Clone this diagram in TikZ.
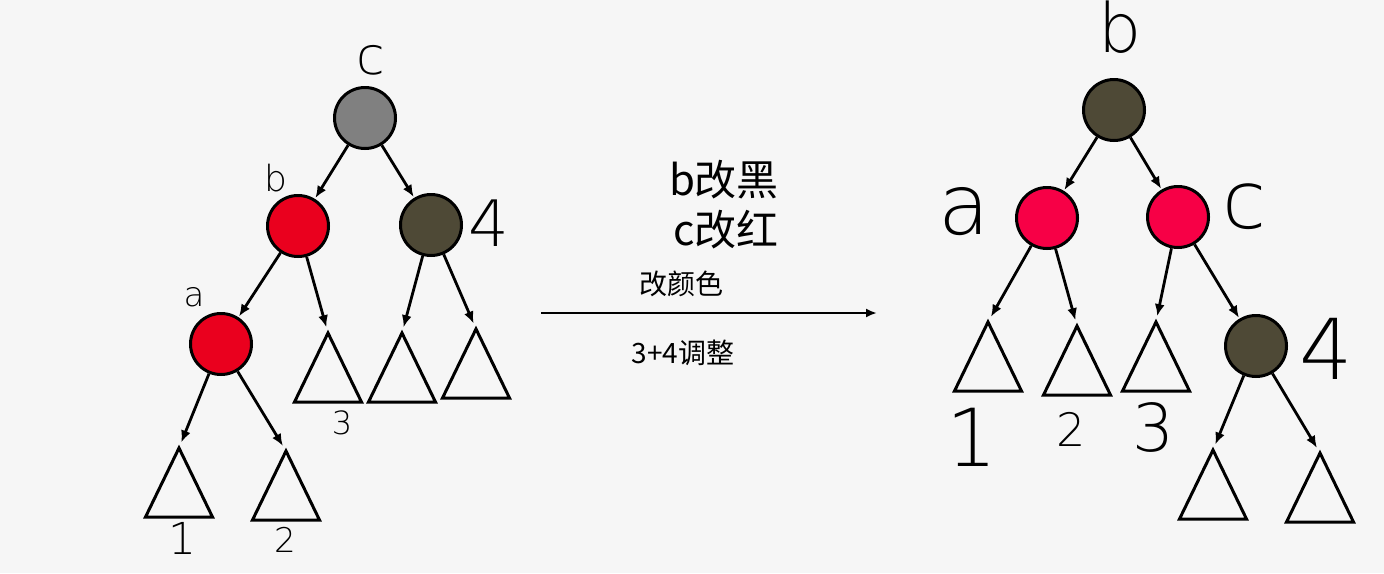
\documentclass[tikz,border=0pt]{standalone}
\usepackage{fontspec}
\usetikzlibrary{arrows.meta}
\newfontfamily\cjk{Noto Sans CJK SC}
\newfontfamily\hand{DejaVu Sans ExtraLight}
\newcommand\hwsize[1]{\fontsize{#1}{#1}\selectfont}
\definecolor{bgc}{HTML}{F6F6F6}
\definecolor{greyn}{HTML}{808080}
\definecolor{redn}{HTML}{EA001E}
\definecolor{pinkn}{HTML}{F70046}
\definecolor{darkn}{HTML}{4E4936}
\tikzset{
  rbnode/.style={circle, draw=black, line width=3pt, minimum size=61pt, inner sep=0pt},
  edge/.style={line width=2.8pt, -{Latex[length=12pt,width=10pt]}, shorten >=1pt},
  subedge/.style={edge, shorten >=6pt},
  tristy/.style={line width=3pt, line join=miter},
  lbl/.style={inner sep=0pt, font=\hand},
  cjklbl/.style={inner sep=0pt, font=\cjk},
}
\newcommand\subtree[1]{\draw[tristy] (#1) -- ++(-33.5,69) -- ++(67,0) -- cycle;}
\begin{document}
\begin{tikzpicture}[x=1pt,y=-1pt]
\fill[bgc] (0,0) rectangle (1384,573);
\useasboundingbox (0,0) rectangle (1384,573);

% ---------- left tree ----------
\node[rbnode, fill=greyn] (Lc) at (365,118) {};
\node[rbnode, fill=redn]  (Lb) at (298,226) {};
\node[rbnode, fill=darkn] (L4) at (431,225) {};
\node[rbnode, fill=redn]  (La) at (221,344) {};

\coordinate (LT1) at (179,448);
\coordinate (LT2) at (286,451);
\coordinate (LT3) at (328,333);
\coordinate (LT4) at (402,333);
\coordinate (LT5) at (476,329);
\foreach \t in {LT1,LT2,LT3,LT4,LT5} {\subtree{\t}}

\draw[edge] (Lc) -- (Lb);
\draw[edge] (Lc) -- (L4);
\draw[edge] (Lb) -- (La);
\draw[subedge] (Lb) -- (LT3);
\draw[subedge] (L4) -- (LT4);
\draw[subedge] (L4) -- (LT5);
\draw[subedge] (La) -- (LT1);
\draw[subedge] (La) -- (LT2);

\node[lbl, font=\hand\hwsize{52}] (lc) at (371,60) {c};
\node[lbl, font=\hand\hwsize{36}] (lb) at (276,178) {b};
\node[lbl, font=\hand\hwsize{64}] (l4) at (489,223) {4};
\node[lbl, font=\hand\hwsize{34}] (la) at (194,297) {a};
\node[lbl, font=\hand\hwsize{32}] (l3) at (342,423) {3};
\node[lbl, font=\hand\hwsize{44}] (l1) at (182,538) {1};
\node[lbl, font=\hand\hwsize{34}] (l2) at (285,540) {2};

% ---------- middle ----------
\node[cjklbl, font=\cjk\hwsize{42}] (t1) at (724,180) {b改黑};
\node[cjklbl, font=\cjk\hwsize{42}] (t2) at (726,230) {c改红};
\node[cjklbl, font=\cjk\hwsize{28}] (t3) at (681,284) {改颜色};
\node[cjklbl, font=\cjk\hwsize{28}] (t4) at (683,353) {3+4调整};
\coordinate (m1) at (541,313);
\coordinate (m2) at (877,313);
\draw[line width=2.4pt, -{Latex[length=11pt,width=9pt]}] (m1) -- (m2);

% ---------- right tree ----------
\node[rbnode, fill=darkn] (Rb) at (1114,110) {};
\node[rbnode, fill=pinkn] (Ra) at (1047,218) {};
\node[rbnode, fill=pinkn] (Rc) at (1178,217) {};
\node[rbnode, fill=darkn] (R4) at (1256,346) {};

\coordinate (RT1) at (988,322);
\coordinate (RT2) at (1077,326);
\coordinate (RT3) at (1156,322);
\coordinate (RT4) at (1213,450);
\coordinate (RT5) at (1320,453);
\foreach \t in {RT1,RT2,RT3,RT4,RT5} {\subtree{\t}}

\draw[edge] (Rb) -- (Ra);
\draw[edge] (Rb) -- (Rc);
\draw[edge] (Rc) -- (R4);
\draw[subedge] (Ra) -- (RT1);
\draw[subedge] (Ra) -- (RT2);
\draw[subedge] (Rc) -- (RT3);
\draw[subedge] (R4) -- (RT4);
\draw[subedge] (R4) -- (RT5);

\node[lbl, font=\hand\hwsize{68}] (rb) at (1120,27) {b};
\node[lbl, font=\hand\hwsize{84}] (ra) at (964,212) {a};
\node[lbl, font=\hand\hwsize{80}] (rc) at (1244,207) {c};
\node[lbl, font=\hand\hwsize{84}] (r4) at (1326,349) {4};
\node[lbl, font=\hand\hwsize{80}] (r1) at (972,437) {1};
\node[lbl, font=\hand\hwsize{46}] (r2) at (1071,429) {2};
\node[lbl, font=\hand\hwsize{66}] (r3) at (1153,427) {3};
\end{tikzpicture}
\end{document}
